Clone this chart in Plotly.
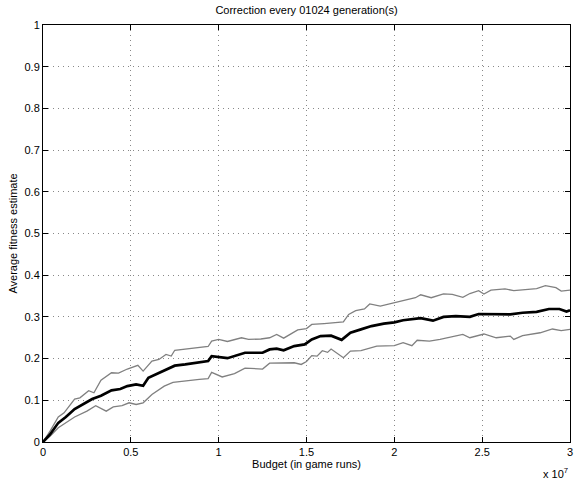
import plotly.graph_objects as go

# Budget in units of 1e7 game runs
mean_x = [0, 0.04, 0.087, 0.13, 0.18, 0.23, 0.28, 0.33, 0.39, 0.44, 0.48, 0.53, 0.57, 0.6, 0.64, 0.7,
          0.75, 0.81, 0.87, 0.94, 0.96, 1.05, 1.15, 1.25, 1.29, 1.33, 1.37, 1.43, 1.49, 1.53, 1.58,
          1.64, 1.7, 1.75, 1.81, 1.87, 1.94, 2.0, 2.05, 2.1, 2.15, 2.22, 2.28, 2.35, 2.43, 2.48,
          2.58, 2.66, 2.73, 2.81, 2.88, 2.94, 2.98, 3.0]
mean_y = [0, 0.018, 0.046, 0.06, 0.079, 0.092, 0.103, 0.111, 0.124, 0.127, 0.134, 0.138, 0.135,
          0.154, 0.162, 0.175, 0.183, 0.186, 0.19, 0.194, 0.206, 0.201, 0.214, 0.214, 0.222, 0.224,
          0.22, 0.23, 0.234, 0.246, 0.254, 0.255, 0.245, 0.262, 0.27, 0.278, 0.284, 0.287, 0.292,
          0.295, 0.297, 0.291, 0.30, 0.302, 0.30, 0.307, 0.307, 0.306, 0.31, 0.312, 0.319, 0.319,
          0.313, 0.316]

upper_x = [0, 0.04, 0.087, 0.12, 0.18, 0.21, 0.26, 0.29, 0.33, 0.39, 0.43, 0.48, 0.54, 0.57, 0.62,
           0.66, 0.7, 0.73, 0.75, 0.85, 0.91, 0.94, 0.96, 1.0, 1.05, 1.13, 1.17, 1.24, 1.29, 1.33,
           1.37, 1.45, 1.5, 1.53, 1.6, 1.71, 1.74, 1.78, 1.83, 1.86, 1.92, 1.98, 2.05, 2.12, 2.15,
           2.21, 2.28, 2.33, 2.39, 2.43, 2.48, 2.51, 2.55, 2.63, 2.68, 2.76, 2.81, 2.86, 2.92, 2.95,
           3.0]
upper_y = [0, 0.026, 0.06, 0.07, 0.103, 0.106, 0.123, 0.118, 0.148, 0.166, 0.165, 0.175, 0.184,
           0.17, 0.194, 0.198, 0.21, 0.206, 0.22, 0.224, 0.228, 0.229, 0.242, 0.246, 0.241, 0.25,
           0.246, 0.247, 0.25, 0.258, 0.249, 0.269, 0.272, 0.282, 0.284, 0.288, 0.306, 0.315, 0.319,
           0.331, 0.326, 0.332, 0.339, 0.346, 0.353, 0.346, 0.355, 0.354, 0.347, 0.356, 0.363, 0.355,
           0.364, 0.367, 0.363, 0.366, 0.368, 0.375, 0.37, 0.362, 0.364]

lower_x = [0, 0.04, 0.087, 0.13, 0.18, 0.25, 0.3, 0.36, 0.4, 0.45, 0.49, 0.53, 0.57, 0.62, 0.69,
           0.74, 0.83, 0.89, 0.94, 0.96, 1.02, 1.09, 1.15, 1.25, 1.29, 1.43, 1.47, 1.5, 1.53, 1.56,
           1.59, 1.62, 1.64, 1.69, 1.71, 1.75, 1.81, 1.9, 2.0, 2.05, 2.1, 2.13, 2.2, 2.26, 2.33,
           2.39, 2.43, 2.51, 2.58, 2.66, 2.68, 2.73, 2.83, 2.9, 2.95, 3.0]
lower_y = [0, 0.014, 0.034, 0.047, 0.06, 0.074, 0.087, 0.074, 0.084, 0.087, 0.094, 0.09, 0.094,
           0.114, 0.134, 0.143, 0.148, 0.15, 0.152, 0.167, 0.156, 0.164, 0.177, 0.175, 0.189, 0.19,
           0.186, 0.193, 0.207, 0.206, 0.219, 0.215, 0.223, 0.207, 0.202, 0.218, 0.219, 0.23, 0.231,
           0.238, 0.231, 0.244, 0.242, 0.246, 0.252, 0.258, 0.25, 0.259, 0.25, 0.254, 0.246, 0.255,
           0.262, 0.271, 0.267, 0.27]

x_ticks = [0, 0.5, 1, 1.5, 2, 2.5, 3]
y_ticks = [0, 0.1, 0.2, 0.3, 0.4, 0.5, 0.6, 0.7, 0.8, 0.9, 1]

scale = 1e7
fig = go.Figure()
fig.add_trace(go.Scatter(x=[v * scale for v in upper_x], y=upper_y, mode="lines",
                         line=dict(color="#808080", width=1.3), showlegend=False))
fig.add_trace(go.Scatter(x=[v * scale for v in lower_x], y=lower_y, mode="lines",
                         line=dict(color="#808080", width=1.3), showlegend=False))
fig.add_trace(go.Scatter(x=[v * scale for v in mean_x], y=mean_y, mode="lines",
                         line=dict(color="black", width=2.7), showlegend=False))

font = dict(family="Liberation Sans, Arial, sans-serif", size=11, color="black")
axis_common = dict(showline=True, linecolor="black", linewidth=1, mirror="ticks",
                   ticks="inside", ticklen=5, tickcolor="black",
                   showgrid=True, gridcolor="#888888", griddash="1px,4px", gridwidth=1,
                   zeroline=False, ticklabeloverflow="allow")
fig.update_layout(
    width=574, height=480,
    margin=dict(l=43, r=1, t=25, b=38),
    paper_bgcolor="white", plot_bgcolor="white",
    font=font,
    title=dict(text="Correction every 01024 generation(s)", x=0.5, xref="paper",
               y=1, yref="container", yanchor="top", pad=dict(t=6), font=dict(size=11)),
    xaxis=dict(range=[0, 3 * scale], tickvals=[v * scale for v in x_ticks],
               ticktext=[f"{v:g}" for v in x_ticks],
               title=dict(text="Budget (in game runs)", standoff=2, font=dict(size=11)),
               **axis_common),
    yaxis=dict(range=[0, 1], tickvals=y_ticks, ticktext=[f"{v:g}" for v in y_ticks],
               title=dict(text="Average fitness estimate", standoff=4, font=dict(size=11)),
               **axis_common),
)
fig.add_annotation(text="x 10<sup>7</sup>", xref="paper", yref="paper", x=1, y=0,
                   xanchor="right", yanchor="top", yshift=-22, showarrow=False,
                   font=dict(size=11))

fig.write_html("out.html")
